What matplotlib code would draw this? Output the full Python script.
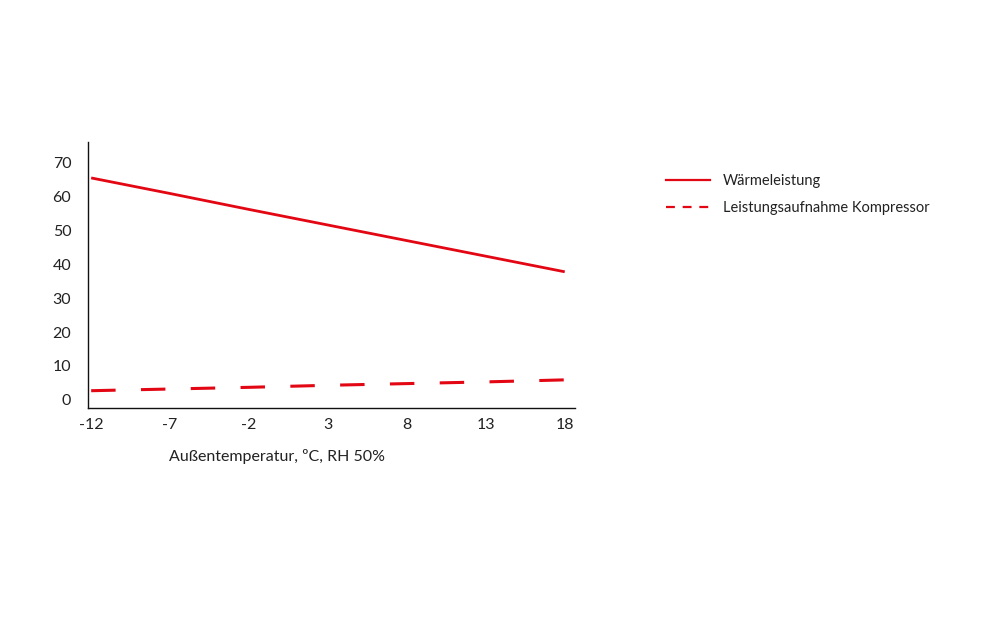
import matplotlib
matplotlib.use('Agg')
import matplotlib.pyplot as plt
from matplotlib.lines import Line2D

plt.rcParams['font.family'] = ['Lato', 'DejaVu Sans']

# data
temps = [-12, -7, -2, 3, 8, 13, 18]
heat_output = [65.5, 60.9, 56.2, 51.6, 47.0, 42.4, 37.8]
compressor_power = [2.7, 3.2, 3.7, 4.3, 4.8, 5.3, 5.9]
yticks = [0, 10, 20, 30, 40, 50, 60, 70]
series_names = ['Wärmeleistung', 'Leistungsaufnahme Kompressor']
xlabel = 'Außentemperatur, ºC, RH 50%'

red = '#e30613'
txt = '#222222'

fig = plt.figure(figsize=(9.9, 6.27), dpi=100)
ax = fig.add_axes([0.0889, 0.3493, 0.4919, 0.4242])

ax.plot(temps, heat_output, color=red, lw=2.0, solid_capstyle='butt')
ax.plot(temps, compressor_power, color=red, lw=2.2, dashes=(8, 8.3))

ax.set_xlim(-12.2, 18.65)
ax.set_ylim(-2.4, 76.1)
ax.set_xticks(temps)
ax.set_xticklabels([str(t) for t in temps])
ax.set_yticks(yticks)
ax.tick_params(length=0, labelsize=11.5, labelcolor=txt, pad=7)
ax.tick_params(axis='y', pad=12)

for s in ['top', 'right']:
    ax.spines[s].set_visible(False)
for s in ['left', 'bottom']:
    ax.spines[s].set_color('#111111')
    ax.spines[s].set_linewidth(1.0)

fig.text(277 / 990, 1 - 456 / 627, xlabel, ha='center', va='center',
         fontsize=11.5, color=txt)

handles = [Line2D([], [], color=red, lw=1.6),
           Line2D([], [], color=red, lw=1.6, dashes=(4, 3.5))]
fig.legend(handles, series_names, loc='upper left',
           bbox_to_anchor=(653 / 990, 1 - 161 / 627), frameon=False,
           fontsize=10.5, handlelength=3.0, handletextpad=0.9,
           labelspacing=0.9, labelcolor=txt)

fig.savefig('out.png', dpi=100, facecolor='white')
